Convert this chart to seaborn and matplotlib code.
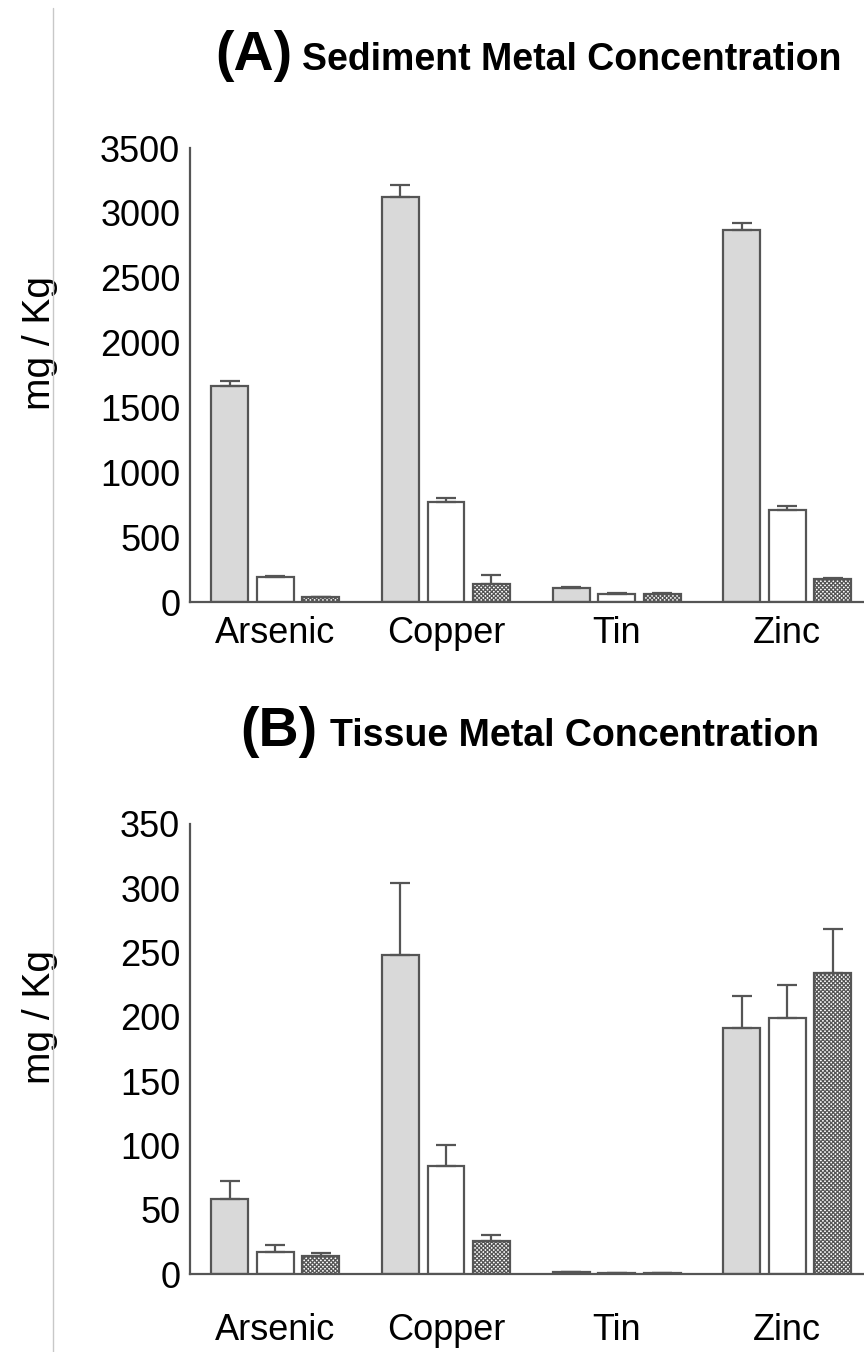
import numpy as np
import pandas as pd
import matplotlib
matplotlib.use("Agg")
import matplotlib.pyplot as plt
import seaborn as sns
from matplotlib.lines import Line2D

metals = ['Arsenic', 'Copper', 'Tin', 'Zinc']
groups = ['Group 1', 'Group 2', 'Group 3']

# (A) sediment, mg/Kg
sed_g1 = [1665, 3122, 108, 2868]
sed_g2 = [195, 771, 62, 709]
sed_g3 = [35, 139, 62, 177]
sed_g1_err = [40, 90, 5, 55]
sed_g2_err = [6, 31, 6, 30]
sed_g3_err = [5, 69, 5, 10]

# (B) tissue, mg/Kg
tis_g1 = [58, 248, 1.5, 191]
tis_g2 = [17, 84, 0.8, 199]
tis_g3 = [14, 26, 0.5, 234]
tis_g1_err = [14, 56, 0.3, 25]
tis_g2_err = [5.4, 16, 0.2, 26]
tis_g3_err = [2, 4, 0.1, 34]

EDGE = '#555555'
FILLS = ['#d9d9d9', '#ffffff', '#ffffff']

sns.set_style('white')
plt.rcParams['font.family'] = ['Liberation Sans', 'DejaVu Sans']
plt.rcParams['text.color'] = 'black'
plt.rcParams['axes.labelcolor'] = 'black'
plt.rcParams['xtick.labelcolor'] = 'black'
plt.rcParams['ytick.labelcolor'] = 'black'
plt.rcParams['hatch.color'] = '#404040'
plt.rcParams['hatch.linewidth'] = 0.9


def to_df(vals, errs):
    rows = []
    for g, v, e in zip(groups, vals, errs):
        for m, vv, ee in zip(metals, v, e):
            rows.append({'metal': m, 'group': g, 'value': vv, 'err': ee})
    return pd.DataFrame(rows)


def bar_panel(ax, df, ymax, step):
    sns.barplot(data=df, x='metal', y='value', hue='group', order=metals,
                hue_order=groups, palette=FILLS, errorbar=None, gap=0.19,
                edgecolor=EDGE, linewidth=1.6, legend=False, ax=ax)
    conts = list(ax.containers)
    for i, cont in enumerate(conts):
        sub = df[df['group'] == groups[i]].set_index('metal').loc[metals]
        xs, ys = [], []
        for bar in cont:
            xs.append(bar.get_x() + bar.get_width() / 2)
            ys.append(bar.get_height())
            if i == 2:
                bar.set_hatch('xxxxxxxx')
        ax.errorbar(xs, ys, yerr=[np.zeros(len(ys)), sub['err'].values],
                    fmt='none', ecolor=EDGE, elinewidth=1.6, capsize=7,
                    capthick=1.6, zorder=1)
    ax.set_xlim(-0.5, 3.45)
    ax.set_ylim(0, ymax)
    ax.set_yticks(np.arange(0, ymax + 1, step))
    sns.despine(ax=ax)
    for s in ['left', 'bottom']:
        ax.spines[s].set_color(EDGE)
        ax.spines[s].set_linewidth(1.6)
    ax.tick_params(axis='y', length=6, width=1.4, color=EDGE, labelsize=26, pad=1)
    ax.tick_params(axis='x', length=0, labelsize=26, pad=10)
    ax.set_xlabel('')
    ax.set_ylabel('mg / Kg', fontsize=28)
    ax.yaxis.set_label_coords(-0.196, 0.57)


fig = plt.figure(figsize=(8.64, 13.52), dpi=100)
axA = fig.add_axes([190 / 864, 1 - 602 / 1352, 674 / 864, 454 / 1352])
axB = fig.add_axes([190 / 864, 1 - 1274 / 1352, 674 / 864, 450 / 1352])

bar_panel(axA, to_df([sed_g1, sed_g2, sed_g3], [sed_g1_err, sed_g2_err, sed_g3_err]), 3500, 500)
bar_panel(axB, to_df([tis_g1, tis_g2, tis_g3], [tis_g1_err, tis_g2_err, tis_g3_err]), 350, 50)
axB.tick_params(axis='x', pad=28)

# panel titles
fig.text(215 / 864, 1 - 70 / 1352, '(A)', fontsize=40, fontweight='bold', va='baseline')
fig.text(302 / 864, 1 - 70 / 1352, 'Sediment Metal Concentration', fontsize=27,
         fontweight='bold', va='baseline')
fig.text(240 / 864, 1 - 746 / 1352, '(B)', fontsize=40, fontweight='bold', va='baseline')
fig.text(330 / 864, 1 - 746 / 1352, 'Tissue Metal Concentration', fontsize=27,
         fontweight='bold', va='baseline')

# page border line on the left
fig.add_artist(Line2D([53 / 864, 53 / 864], [0, 1 - 8 / 1352], color='#c8c8c8', lw=1))

fig.savefig('out.png', dpi=100)
